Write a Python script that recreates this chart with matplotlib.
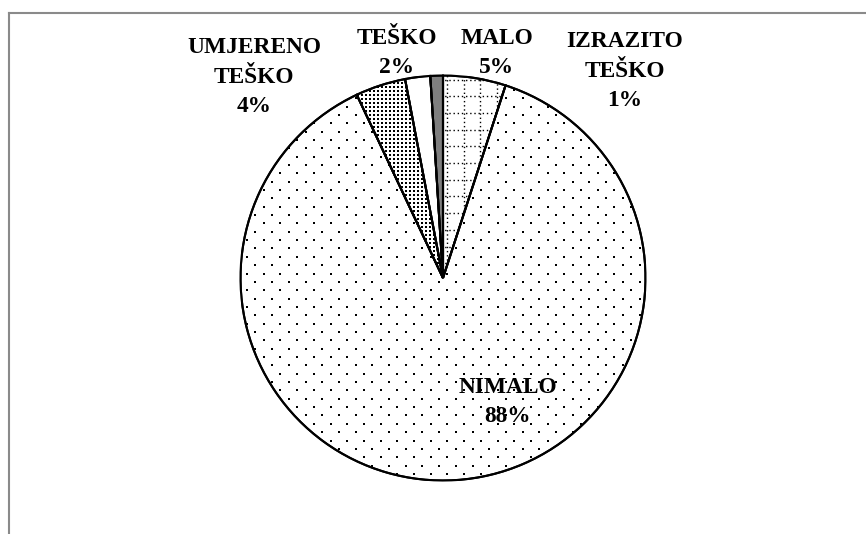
import matplotlib
matplotlib.use("Agg")
import matplotlib.pyplot as plt
from matplotlib.lines import Line2D
from matplotlib.patches import PathPatch
import numpy as np

categories = ["MALO", "NIMALO", "UMJERENO\nTEŠKO", "TEŠKO", "IZRAZITO\nTEŠKO"]
values = [5, 88, 4, 2, 1]

W, H = 866, 534
fig = plt.figure(figsize=(W / 100, H / 100), dpi=100)
fig.patch.set_facecolor("white")

cx, cy, R = 443, 278, 202.5
ax = fig.add_axes([(cx - R) / W, (H - cy - R) / H, 2 * R / W, 2 * R / H])

faces = ["white", "white", "white", "white", "#7f7f7f"]
wedges, _ = ax.pie(values, startangle=90, counterclock=False, radius=1,
                   colors=faces,
                   wedgeprops=dict(edgecolor="black", linewidth=1.5))
ax.set_xlim(-1, 1)
ax.set_ylim(-1, 1)
ax.set_aspect("equal")
ax.axis("off")

px = 1.0 / R  # one pixel in data units


def dot_pattern(wedge, dx, dy, size_px, stagger=True):
    ys = np.arange(-1.05, 1.05, dy * px)
    xs_all, ys_all = [], []
    for i, yv in enumerate(ys):
        off = (dx * px / 2) if (stagger and i % 2) else 0.0
        xs = np.arange(-1.05, 1.05, dx * px) + off
        xs_all.append(xs)
        ys_all.append(np.full_like(xs, yv))
    xs_all = np.concatenate(xs_all)
    ys_all = np.concatenate(ys_all)
    s = (size_px * 0.72) ** 2
    sc = ax.scatter(xs_all, ys_all, s=s, marker="s", c="black", linewidths=0, zorder=3)
    sc.set_clip_path(wedge)


# NIMALO: sparse staggered dots
dot_pattern(wedges[1], 16.7, 8.35, 2.2)
# UMJERENO TEŠKO: dense dots
dot_pattern(wedges[2], 4.0, 4.0, 1.9, stagger=False)

# MALO: dotted grid
malo = wedges[0]
step = 16.7 * px
for k in range(-2, 14):
    xv = 0.02 + k * step
    ln = ax.plot([xv, xv], [-1, 1.1], color="black", lw=1.0, ls=(0, (1.0, 2.0)), zorder=3)[0]
    ln.set_clip_path(malo)
    yv = 0.98 - k * step
    ln2 = ax.plot([-0.2, 1], [yv, yv], color="black", lw=1.0, ls=(0, (1.0, 2.0)), zorder=3)[0]
    ln2.set_clip_path(malo)

# redraw wedge outlines above patterns
for w in wedges:
    ax.add_patch(PathPatch(w.get_path(), fill=False, edgecolor="black",
                           linewidth=1.5, zorder=4, transform=w.get_transform()))

pct = [f"{v}%" for v in values]
labels = [f"{c}\n{p}" for c, p in zip(categories, pct)]
# last-line baseline positions (pixels)
label_pos = [(497, 73), (508, 422), (254, 112), (397, 73), (625, 106)]
for lab, (x, y) in zip(labels, label_pos):
    fig.text(x / W, 1 - y / H, lab, ha="center", va="baseline",
             multialignment="center", fontsize=16.8, fontweight="bold",
             family="Liberation Serif", linespacing=1.52)

# frame lines (top and left)
fig.add_artist(Line2D([9 / W, 1], [1 - 13 / H, 1 - 13 / H], color="#8a8a8a", lw=1.5,
                      transform=fig.transFigure))
fig.add_artist(Line2D([9 / W, 9 / W], [1 - 13 / H, 0], color="#8a8a8a", lw=1.5,
                      transform=fig.transFigure))

fig.savefig("out.png", dpi=100, facecolor="white")
